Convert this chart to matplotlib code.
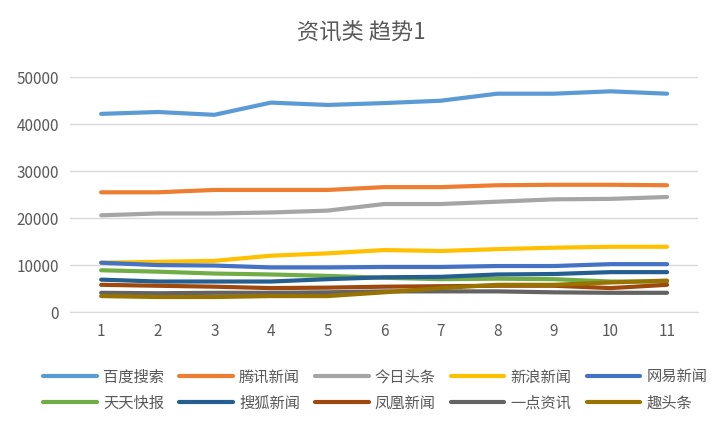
import matplotlib.pyplot as plt

plt.rcParams['font.family'] = ['Noto Sans CJK SC', 'DejaVu Sans']

x = list(range(1, 12))
names = ['百度搜索', '腾讯新闻', '今日头条', '新浪新闻', '网易新闻',
         '天天快报', '搜狐新闻', '凤凰新闻', '一点资讯', '趣头条']
colors = ['#5B9BD5', '#ED7D31', '#A5A5A5', '#FFC000', '#4472C4',
          '#70AD47', '#255E91', '#9E480E', '#636363', '#997300']
baidu = [42200, 42600, 42000, 44600, 44100, 44500, 45000, 46500, 46500, 47000, 46500]
tencent = [25500, 25500, 26000, 26000, 26000, 26600, 26600, 27000, 27100, 27100, 27000]
toutiao = [20600, 21000, 21000, 21200, 21600, 23000, 23000, 23500, 24000, 24100, 24500]
sina = [10500, 10700, 10900, 12000, 12500, 13200, 13000, 13400, 13700, 13900, 13900]
netease = [10500, 10000, 9900, 9500, 9500, 9600, 9600, 9800, 9800, 10200, 10200]
tiantian = [8900, 8600, 8200, 8000, 7700, 7300, 7000, 7100, 7000, 6500, 6500]
sohu = [6900, 6500, 6500, 6500, 7000, 7400, 7500, 8000, 8100, 8500, 8500]
ifeng = [5800, 5600, 5400, 5100, 5200, 5400, 5500, 5600, 5600, 5100, 5800]
yidian = [4100, 4000, 4100, 4100, 4200, 4400, 4400, 4400, 4200, 4100, 4100]
qutoutiao = [3400, 3200, 3200, 3400, 3400, 4200, 5100, 5800, 5800, 6300, 6700]
series = [baidu, tencent, toutiao, sina, netease, tiantian, sohu, ifeng, yidian, qutoutiao]

fig = plt.figure(figsize=(7.22, 4.34), dpi=100)
ax = fig.add_axes([0.097, 0.281, 0.87, 0.541])
lines = []
for name, c, s in zip(names, colors, series):
    lines += ax.plot(x, s, color=c, lw=3, label=name, solid_capstyle='round')

ax.set_xlim(0.45, 11.55)
ax.set_ylim(0, 50000)
ax.set_yticks(range(0, 50001, 10000))
ax.set_xticks(x)
ax.grid(axis='y', color='#D9D9D9', lw=1)
ax.set_axisbelow(True)
for sp in ['top', 'right', 'left']:
    ax.spines[sp].set_visible(False)
ax.spines['bottom'].set_color('#D9D9D9')
ax.tick_params(length=0, labelsize=11, colors='#595959', pad=8)
fig.text(0.5, 0.925, '资讯类 趋势1', ha='center', va='center', fontsize=16, color='#595959')

# legend is filled column-first, so interleave to get row order
order = [0, 5, 1, 6, 2, 7, 3, 8, 4, 9]
fig.legend([lines[i] for i in order], [names[i] for i in order],
           loc='lower center', bbox_to_anchor=(0.52, 0.02), ncol=5, frameon=False,
           fontsize=11, labelcolor='#595959', handlelength=3.5, columnspacing=1.0,
           handletextpad=0.4, labelspacing=0.6)
fig.savefig('out.png')
